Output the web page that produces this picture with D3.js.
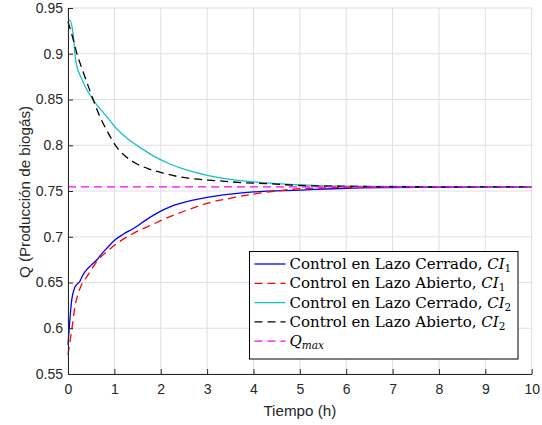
<!DOCTYPE html>
<html>
<head>
<meta charset="utf-8">
<script src="https://cdn.jsdelivr.net/npm/d3@7"></script>
<style>
body { margin: 0; background: #fff; }
svg { display: block; }
</style>
</head>
<body>
<div id="chart"></div>
<script>
// time (h) and Q values
var tBlue = [0, 0.04, 0.08, 0.15, 0.26, 0.32, 0.40, 0.5, 0.62, 0.72, 0.83, 1.01, 1.2, 1.41, 1.7, 1.98, 2.2, 2.7, 3, 3.5, 4, 5, 6, 7, 8, 10];
var qBlue = [0.582, 0.609, 0.631, 0.645, 0.6516, 0.658, 0.6637, 0.669, 0.6746, 0.681, 0.687, 0.6965, 0.703, 0.709, 0.719, 0.7274, 0.7326, 0.740, 0.743, 0.7465, 0.749, 0.751, 0.753, 0.7537, 0.754, 0.7543];

var tRed = [0, 0.08, 0.15, 0.26, 0.4, 0.62, 0.91, 1.41, 1.8, 2.2, 2.78, 3, 3.5, 4, 4.5, 5, 6, 7, 10];
var qRed = [0.571, 0.598, 0.6235, 0.6437, 0.6557, 0.6728, 0.687, 0.7037, 0.713, 0.722, 0.7329, 0.7366, 0.742, 0.7467, 0.750, 0.7525, 0.7538, 0.7542, 0.7544];

var tCyan = [0, 0.03, 0.11, 0.17, 0.3, 0.55, 0.8, 1.05, 1.3, 1.6, 1.9, 2.2, 2.5, 3, 3.5, 4, 5, 6, 7, 8, 10];
var qCyan = [0.934, 0.937, 0.922, 0.891, 0.872, 0.849, 0.8335, 0.818, 0.8065, 0.796, 0.7867, 0.7795, 0.7739, 0.7672, 0.7628, 0.760, 0.7568, 0.7554, 0.7549, 0.7547, 0.7545];

var tBlack = [0, 0.1, 0.19, 0.3, 0.47, 0.69, 0.85, 1.05, 1.25, 1.48, 1.75, 2.06, 2.35, 2.63, 3.2, 3.78, 4.28, 5, 6, 7, 10];
var qBlack = [0.935, 0.918, 0.9005, 0.884, 0.860, 0.831, 0.815, 0.798, 0.7875, 0.7798, 0.774, 0.7695, 0.766, 0.7637, 0.7613, 0.7591, 0.7580, 0.7560, 0.7551, 0.7547, 0.7545];

var qMax = 0.7545;

var xTicks = [0, 1, 2, 3, 4, 5, 6, 7, 8, 9, 10];
var yTicks = [0.55, 0.6, 0.65, 0.7, 0.75, 0.8, 0.85, 0.9, 0.95];

var W = 542, H = 425;
var pLeft = 68, pRight = 531.7, pTop = 8, pBottom = 374;
var axisCol = "#262626";
var sansFont = "Liberation Sans, Arial, sans-serif";

var x = d3.scaleLinear().domain([0, 10]).range([pLeft, pRight]);
var y = d3.scaleLinear().domain([0.55, 0.95]).range([pBottom, pTop]);

var svg = d3.select("#chart").append("svg")
    .attr("width", W)
    .attr("height", H)

// grid
svg.append("g").selectAll("line")
    .data(xTicks)
    .enter().append("line")
    .attr("x1", d => x(d)).attr("x2", d => x(d))
    .attr("y1", pTop).attr("y2", pBottom)
    .attr("stroke", "#dfdfdf").attr("stroke-width", 1)
svg.append("g").selectAll("line")
    .data(yTicks)
    .enter().append("line")
    .attr("x1", pLeft).attr("x2", pRight)
    .attr("y1", d => y(d)).attr("y2", d => y(d))
    .attr("stroke", "#dfdfdf").attr("stroke-width", 1)

function zip(ts, qs) {
    return ts.map((t, i) => ({t: t, q: qs[i]}))
}

var line = d3.line()
    .curve(d3.curveMonotoneX)
    .x(d => x(d.t))
    .y(d => y(d.q))

var series = [
    {data: zip(tBlue, qBlue), color: "#0000ff", dash: null},
    {data: zip(tRed, qRed), color: "#ff0000", dash: "8,5"},
    {data: zip(tCyan, qCyan), color: "#17c1c1", dash: null},
    {data: zip(tBlack, qBlack), color: "#000000", dash: "8,5"},
    {data: zip([0, 10], [qMax, qMax]), color: "#ff00ff", dash: "8,5"}
]

series.forEach(function(s) {
    svg.append("path")
        .datum(s.data)
        .attr("fill", "none")
        .attr("stroke", s.color)
        .attr("stroke-width", 1.3)
        .attr("stroke-dasharray", s.dash)
        .attr("d", line)
})

// axes
var gx = svg.append("g")
    .attr("transform", "translate(0," + pBottom + ")")
    .call(d3.axisBottom(x).tickValues(xTicks).tickSizeInner(-5).tickSizeOuter(0).tickPadding(10))
var gy = svg.append("g")
    .attr("transform", "translate(" + pLeft + ",0)")
    .call(d3.axisLeft(y).tickValues(yTicks).tickFormat(d3.format("")).tickSizeInner(-5).tickSizeOuter(0).tickPadding(5))

;[gx, gy].forEach(function(g) {
    g.select(".domain").attr("stroke", axisCol)
    g.selectAll(".tick line").attr("stroke", axisCol)
    g.selectAll("text")
        .attr("fill", axisCol)
        .style("font-family", sansFont)
        .style("font-size", "14px")
})

svg.append("text")
    .attr("x", (pLeft + pRight) / 2)
    .attr("y", 416)
    .attr("text-anchor", "middle")
    .attr("fill", axisCol)
    .style("font-family", sansFont)
    .style("font-size", "15.2px")
    .text("Tiempo (h)")

svg.append("text")
    .attr("transform", "translate(30," + 192 + ") rotate(-90)")
    .attr("text-anchor", "middle")
    .attr("fill", axisCol)
    .style("font-family", sansFont)
    .style("font-size", "15.2px")
    .text("Q (Producción de biogás)")

// legend
var legendNames = ["Control en Lazo Cerrado, ", "Control en Lazo Abierto, ", "Control en Lazo Cerrado, ", "Control en Lazo Abierto, ", ""]
var legendSubs = ["1", "1", "2", "2", "max"]

var lg = svg.append("g").attr("transform", "translate(249.5,251.5)")
lg.append("rect")
    .attr("width", 268.5).attr("height", 107.5)
    .attr("fill", "#fff").attr("stroke", "#000").attr("stroke-width", 1)

series.forEach(function(s, i) {
    var cy = 12.5 + i * 19.3
    lg.append("line")
        .attr("x1", 5).attr("x2", 36)
        .attr("y1", cy).attr("y2", cy)
        .attr("stroke", s.color).attr("stroke-width", 1.3)
        .attr("stroke-dasharray", s.dash)
    var tx = lg.append("text")
        .attr("x", 40).attr("y", cy + 5)
        .attr("fill", "#000")
        .style("font-family", "DejaVu Serif, serif")
        .style("font-size", "15px")
    if (i < 4) {
        tx.append("tspan").text(legendNames[i])
        tx.append("tspan").style("font-style", "italic").text("CI")
        tx.append("tspan").attr("dy", 3).style("font-size", "10.5px").text(legendSubs[i])
    } else {
        tx.append("tspan").style("font-style", "italic").text("Q")
        tx.append("tspan").attr("dy", 3).style("font-size", "10.5px").style("font-style", "italic").text(legendSubs[i])
    }
})
</script>
</body>
</html>
